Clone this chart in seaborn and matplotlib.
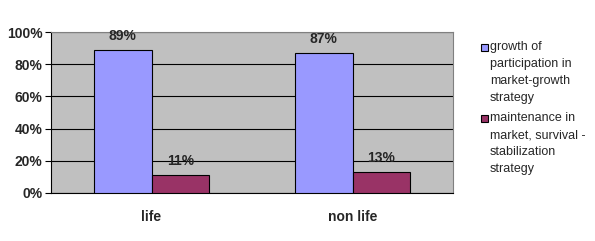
import matplotlib
matplotlib.use("Agg")
import matplotlib.pyplot as plt
import seaborn as sns
import pandas as pd
from matplotlib.patches import Rectangle

categories = ["life", "non life"]
series_names = ["growth of participation in market-growth strategy",
                "maintenance in market, survival - stabilization strategy"]
legend_lines = [["growth of", "participation in", "market-growth", "strategy"],
                ["maintenance in", "market, survival -", "stabilization", "strategy"]]
growth_values = [89, 87]
maintenance_values = [11, 13]
y_ticks = [0, 20, 40, 60, 80, 100]
colors = ["#9999FF", "#993366"]

df = pd.DataFrame({
    "category": categories * 2,
    "series": [series_names[0]] * 2 + [series_names[1]] * 2,
    "value": growth_values + maintenance_values,
})

sns.set_style("white")
plt.rcParams["font.family"] = ["Liberation Sans", "DejaVu Sans"]

W, H = 595, 241
fig = plt.figure(figsize=(W / 100, H / 100), dpi=100)
ax = fig.add_axes([51 / W, 1 - 193 / H, (453 - 51) / W, (193 - 32) / H])
ax.set_facecolor("#C0C0C0")

sns.barplot(data=df, x="category", y="value", hue="series", palette=colors,
            width=0.577, gap=0, edgecolor="black", linewidth=0.8, saturation=1,
            ax=ax, legend=False, zorder=3)

for cont in ax.containers:
    ax.bar_label(cont, labels=[f"{v:.0f}%" for v in cont.datavalues],
                 padding=5, fontsize=10, fontweight="bold")

ax.set_ylim(0, 100)
ax.set_xlim(-0.5, 1.5)
ax.set_yticks(y_ticks)
ax.set_yticklabels([f"{t}%" for t in y_ticks], fontsize=10, fontweight="bold")
ax.set_xticks([0, 1])
ax.set_xticklabels(categories, fontsize=10, fontweight="bold")
ax.set_xticks([-0.5, 0.5, 1.5], minor=True)
ax.tick_params(axis="x", which="major", length=0, pad=12)
ax.tick_params(axis="x", which="minor", length=5, width=0.8, color="black", direction="out")
ax.tick_params(axis="y", which="major", length=4, width=0.8, color="black", direction="out", pad=2, left=True)
ax.set_xlabel("")
ax.set_ylabel("")
ax.yaxis.grid(True, color="black", linewidth=0.8, zorder=0)
ax.set_axisbelow(True)

for side in ["top", "right"]:
    ax.spines[side].set_color("#808080")
    ax.spines[side].set_linewidth(0.8)
for side in ["left", "bottom"]:
    ax.spines[side].set_color("black")
    ax.spines[side].set_linewidth(0.8)

# legend (no frame), square marker aligned with the first text line
starts = [47, 118]
for color, lines, y0 in zip(colors, legend_lines, starts):
    fig.add_artist(Rectangle((481 / W, 1 - (y0 + 3.5) / H), 7 / W, 7 / H,
                             transform=fig.transFigure, facecolor=color,
                             edgecolor="black", linewidth=0.8))
    for i, line in enumerate(lines):
        fig.text(490 / W, 1 - (y0 + 17 * i) / H, line, fontsize=9,
                 va="center", ha="left")

fig.savefig("out.png", dpi=100, facecolor="white")
